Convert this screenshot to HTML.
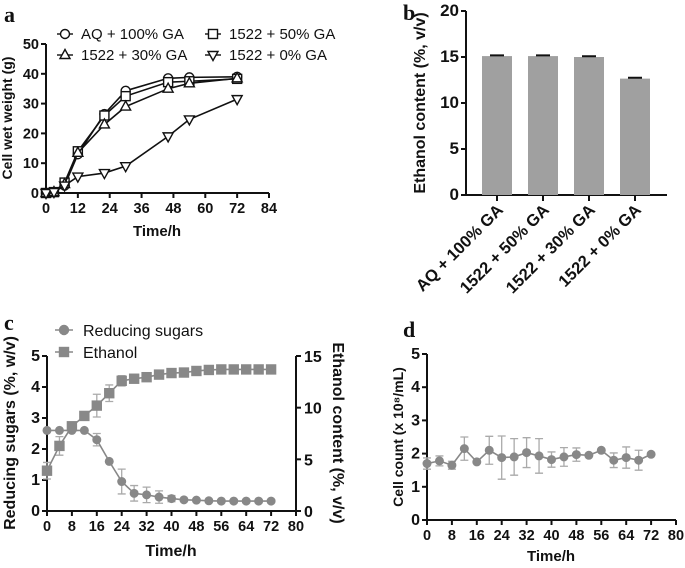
<!DOCTYPE html>
<html><head><meta charset="utf-8"><style>
html,body{margin:0;padding:0;background:#fff}
svg{display:block;font-family:"Liberation Sans",Arial,sans-serif}
.t{font-weight:bold;font-size:14.5px;fill:#111}
.lab{font-weight:bold;font-size:14px;fill:#111}
.leg{font-size:15px;fill:#111}
.pl{font-family:"Liberation Serif",serif;font-weight:bold;font-size:22px;fill:#111}
</style></head><body>
<svg id="s" width="685" height="568" viewBox="0 0 685 568">
<text class="pl" x="4" y="22">a</text>
<text class="pl" x="403" y="20">b</text>
<text class="pl" x="4" y="330">c</text>
<text class="pl" x="403" y="337">d</text>
</svg>
<script>
// Panel a data
const aTimes=[0,3,7,12,22,30,46,54,72];
const aAQ100=[0,0.3,2.5,13,26.5,34.3,38.5,38.8,39];
const a1522_50=[0,0.3,3.5,14,26,32.5,37.2,37.5,38.3];
const a1522_30=[0,0.3,3,13.5,23,29,35,36.8,38.5];
const a1522_0=[0,0.3,2.5,5.5,6.7,9,19,24.7,31.5];
const aXTicks=[0,12,24,36,48,60,72,84];
const aYTicks=[0,10,20,30,40,50];
// Panel b data
const bCats=["AQ + 100% GA","1522 + 50% GA","1522 + 30% GA","1522 + 0% GA"];
const bVals=[15.1,15.1,15.0,12.65];
const bErr=[0.08,0.08,0.08,0.1];
const bYTicks=[0,5,10,15,20];
// Panel c data
const cTimes=[0,4,8,12,16,20,24,28,32,36,40,44,48,52,56,60,64,68,72];
const cSugar=[2.6,2.6,2.6,2.6,2.3,1.6,0.95,0.57,0.52,0.45,0.4,0.36,0.35,0.33,0.32,0.32,0.32,0.32,0.32];
const cSugarErr=[0,0,0,0,0.2,0,0.4,0.25,0.25,0.2,0.1,0,0,0,0,0,0,0,0];
const cEth=[3.9,6.3,8.2,9.2,10.2,11.4,12.6,12.8,12.95,13.2,13.35,13.4,13.55,13.65,13.7,13.7,13.7,13.7,13.7];
const cEthErr=[0.8,0.9,0.2,0,1.1,0.8,0.5,0.2,0,0,0,0,0,0,0,0,0,0,0];
const cXTicks=[0,8,16,24,32,40,48,56,64,72,80];
const cYTicks=[0,1,2,3,4,5];
const cY2Ticks=[0,5,10,15];
// Panel d data
const dTimes=[0,4,8,12,16,20,24,28,32,36,40,44,48,52,56,60,64,68,72];
const dCount=[1.7,1.78,1.65,2.15,1.75,2.1,1.88,1.9,2.03,1.93,1.82,1.9,1.97,1.95,2.1,1.8,1.88,1.8,1.98];
const dErr=[0.17,0.15,0.12,0.35,0,0.42,0.65,0.55,0.45,0.52,0.23,0.28,0.2,0,0,0.22,0.32,0.3,0];
const dXTicks=[0,8,16,24,32,40,48,56,64,72,80];
const dYTicks=[0,1,2,3,4,5];

const svg=document.getElementById('s');
const NS='http://www.w3.org/2000/svg';
function mk(tag,attrs,parent){const e=document.createElementNS(NS,tag);for(const k in attrs)e.setAttribute(k,attrs[k]);(parent||svg).appendChild(e);return e;}
function txt(x,y,s,cls,anchor,parent){const e=mk('text',{x:x,y:y,class:cls,'text-anchor':anchor||'middle'},parent);e.textContent=s;return e;}
function lin(d0,d1,r0,r1){return v=>r0+(v-d0)/(d1-d0)*(r1-r0);}

function axes(name,xs,ys,xT,yT,x0,x1,y0,y1,fs){
  const g=mk('g',{});
  
  
  mk('line',{x1:x0,y1:y0,x2:x1,y2:y0,stroke:'#111','stroke-width':2},g);
  mk('line',{x1:x0,y1:y0+1,x2:x0,y2:y1,stroke:'#111','stroke-width':2},g);
  if(xT) xT.forEach(v=>{const x=xs(v);mk('line',{x1:x,y1:y0,x2:x,y2:y0+5,stroke:'#111','stroke-width':2},g);txt(x,y0+20,v,'t','middle',g);});
  yT.forEach(v=>{const y=ys(v);mk('line',{x1:x0-5,y1:y,x2:x0,y2:y,stroke:'#111','stroke-width':2},g);const t=txt(x0-7,y+5,v,'t','end',g);if(fs)t.setAttribute('style','font-size:'+fs+'px');});
  return g;
}
function marker(type,x,y,g,fill,stroke){
  if(type==='circle') mk('circle',{cx:x,cy:y,r:4.5,fill:fill,stroke:stroke,'stroke-width':1.4},g);
  else if(type==='square') mk('rect',{x:x-4.5,y:y-4.5,width:9,height:9,fill:fill,stroke:stroke,'stroke-width':1.4},g);
  else if(type==='tri') mk('polygon',{points:`${x},${y-5.5} ${x-5},${y+3.5} ${x+5},${y+3.5}`,fill:fill,stroke:stroke,'stroke-width':1.4},g);
  else if(type==='itri') mk('polygon',{points:`${x},${y+5.5} ${x-5},${y-3.5} ${x+5},${y-3.5}`,fill:fill,stroke:stroke,'stroke-width':1.4},g);
}
function series(name,xsArr,ysArr,xs,ys,type,color,fill,errs){
  const g=mk('g',{});
  
  
  if(errs){xsArr.forEach((t,i)=>{if(!errs[i])return;const x=xs(t),ya=ys(ysArr[i]+errs[i]),yb=ys(ysArr[i]-errs[i]);
    mk('path',{d:`M${x},${ya}V${yb}M${x-4},${ya}h8M${x-4},${yb}h8`,stroke:'#aaa','stroke-width':1.3,fill:'none'},g);});}
  mk('polyline',{points:xsArr.map((t,i)=>xs(t)+','+ys(ysArr[i])).join(' '),fill:'none',stroke:color,'stroke-width':1.6},g);
  xsArr.forEach((t,i)=>marker(type,xs(t),ys(ysArr[i]),g,fill,color));
  return g;
}

// ---- Panel a
{const xs=lin(0,84,46,269), ys=lin(0,50,193,44);
 axes('panel-a',xs,ys,aXTicks,aYTicks,46,269,193,44);
 series('series-aq-100-ga',aTimes,aAQ100,xs,ys,'circle','#111','#fff');
 series('series-1522-50-ga',aTimes,a1522_50,xs,ys,'square','#111','#fff');
 series('series-1522-30-ga',aTimes,a1522_30,xs,ys,'tri','#111','#fff');
 series('series-1522-0-ga',aTimes,a1522_0,xs,ys,'itri','#111','#fff');
 txt(157,236,'Time/h','lab').setAttribute('style','font-size:15px');
 const yl=txt(0,0,'Cell wet weight (g)','lab');yl.setAttribute('transform','translate(12,118) rotate(-90)');
 const legs=[['circle','AQ + 100% GA',65,34],['square','1522 + 50% GA',213,34],['tri','1522 + 30% GA',65,55],['itri','1522 + 0% GA',213,55]];
 legs.forEach(l=>{const g=mk('g',{});
   mk('line',{x1:l[2]-8,y1:l[3],x2:l[2]+8,y2:l[3],stroke:'#111','stroke-width':1.4},g);marker(l[0],l[2],l[3],g,'#fff','#111');
   txt(l[2]+16,l[3]+5,l[1],'leg','start',g);});
}
// ---- Panel b
{const ys=lin(0,20,195,11);
 axes('panel-b',null,ys,null,bYTicks,466,667,195,11,17);
 const step=46, first=497;
 bCats.forEach((c,i)=>{const cx=first+i*step;const g=mk('g',{});
   
   
   mk('rect',{x:cx-15,y:ys(bVals[i]),width:30,height:195-ys(bVals[i]),fill:'#a0a0a0'},g);
   mk('path',{d:`M${cx-7},${ys(bVals[i]+bErr[i])}h14M${cx},${ys(bVals[i]+bErr[i])}V${ys(bVals[i])}`,stroke:'#111','stroke-width':2},g);
   mk('line',{x1:cx,y1:195,x2:cx,y2:201,stroke:'#111','stroke-width':2},g);
   const t=txt(0,0,c,'t','end',g);t.setAttribute('transform',`translate(${cx+7},${211}) rotate(-45)`);t.setAttribute('style','font-size:16.5px');
 });
 const yl=txt(0,0,'Ethanol content (%, v/v)','lab');yl.setAttribute('transform','translate(425,103) rotate(-90)');yl.setAttribute('style','font-size:16px');
}
// ---- Panel c
{const xs=lin(0,80,47,296), ys=lin(0,5,511,356), ys2=lin(0,15,511,356);
 axes('panel-c',xs,ys,cXTicks,cYTicks,47,296,511,356,16);
 const g=mk('g',{});
 mk('line',{x1:296,y1:512,x2:296,y2:356,stroke:'#111','stroke-width':2},g);
 cY2Ticks.forEach(v=>{const y=ys2(v);mk('line',{x1:296,y1:y,x2:301,y2:y,stroke:'#111','stroke-width':2},g);txt(304,y+6,v,'t','start',g).setAttribute('style','font-size:16px');});
 series('series-ethanol',cTimes,cEth,xs,ys2,'square','#888','#888',cEthErr);
 series('series-reducing-sugars',cTimes,cSugar,xs,ys,'circle','#888','#888',cSugarErr);
 svg.lastChild.querySelectorAll('circle').forEach(c=>c.setAttribute('r',3.8));
 txt(171,556,'Time/h','lab').setAttribute('style','font-size:16px');
 const yl=txt(0,0,'Reducing sugars (%, w/v)','lab');yl.setAttribute('transform','translate(15,433) rotate(-90)');yl.setAttribute('style','font-size:16px');
 const yr=txt(0,0,'Ethanol content (%, v/v)','lab');yr.setAttribute('transform','translate(333,433) rotate(90)');yr.setAttribute('style','font-size:16px');
 [['circle','Reducing sugars',330],['square','Ethanol',352]].forEach(l=>{const lg=mk('g',{});
   mk('line',{x1:55,y1:l[2],x2:73,y2:l[2],stroke:'#888','stroke-width':1.6},lg);marker(l[0],64,l[2],lg,'#888','#888');
   txt(83,l[2]+6,l[1],'leg','start',lg).setAttribute('style','font-size:16px');});
}
// ---- Panel d
{const xs=lin(0,80,427,676), ys=lin(0,5,520,354);
 axes('panel-d',xs,ys,dXTicks,dYTicks,427,676,520,354,16);
 series('series-cell-count',dTimes,dCount,xs,ys,'circle','#888','#888',dErr);
 svg.lastChild.querySelectorAll('circle').forEach(c=>c.setAttribute('r',3.8));
 txt(551,561,'Time/h','lab').setAttribute('style','font-size:15px');
 const yl=txt(0,0,'Cell count (x 10⁸/mL)','lab');yl.setAttribute('transform','translate(403,437) rotate(-90)');
}
</script>
</body></html>
